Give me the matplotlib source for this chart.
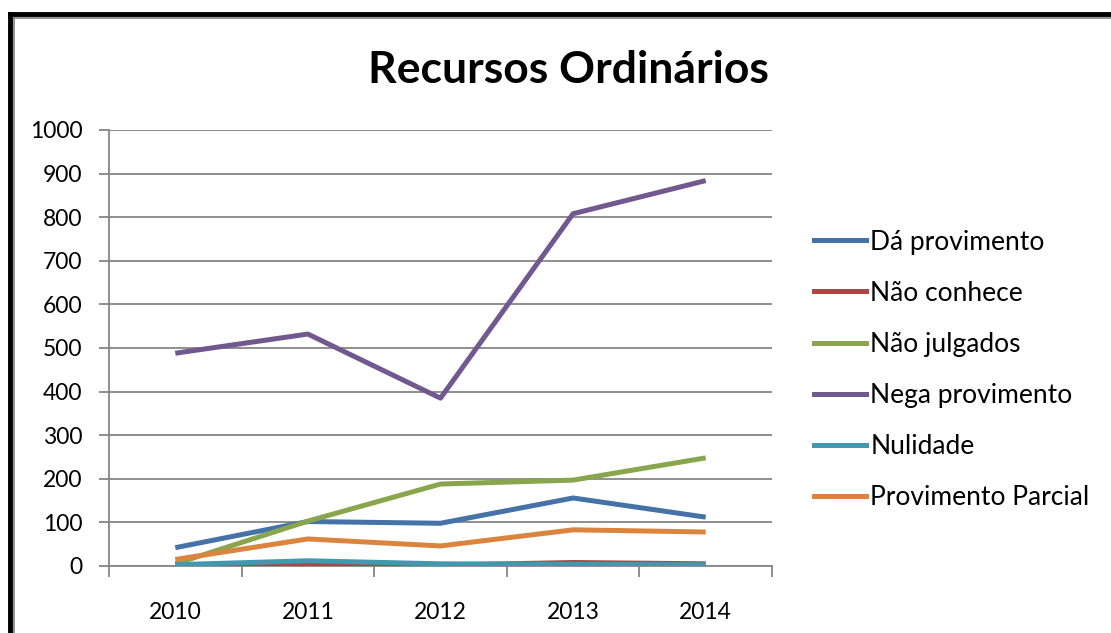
import matplotlib
matplotlib.use("Agg")
import matplotlib.pyplot as plt
from matplotlib.lines import Line2D

years = ["2010", "2011", "2012", "2013", "2014"]
series_names = ["Dá provimento", "Não conhece", "Não julgados",
                "Nega provimento", "Nulidade", "Provimento Parcial"]
da_provimento = [42, 102, 98, 156, 112]
nao_conhece = [2, 5, 2, 8, 5]
nao_julgados = [5, 103, 188, 197, 248]
nega_provimento = [488, 532, 385, 808, 884]
nulidade = [3, 12, 5, 4, 3]
provimento_parcial = [15, 62, 46, 83, 78]
y_ticks = [0, 100, 200, 300, 400, 500, 600, 700, 800, 900, 1000]

values = [da_provimento, nao_conhece, nao_julgados, nega_provimento, nulidade, provimento_parcial]
colors = ["#4572A7", "#AA4643", "#89A54E", "#71588F", "#4198AF", "#DB843D"]

plt.rcParams['font.family'] = ['Lato', 'DejaVu Sans']

fig = plt.figure(figsize=(11.11, 6.33), dpi=100)
ax = fig.add_axes([109/1111, 1-566/633, (772-109)/1111, (566-130)/633])

x = list(range(len(years)))
for name, vals, c in zip(series_names, values, colors):
    ax.plot(x, vals, color=c, lw=3.6, label=name, solid_capstyle='butt', zorder=3)

ax.set_xlim(-0.5, len(years) - 0.5)
ax.set_ylim(0, 1000)
ax.set_yticks(y_ticks)
ax.set_yticklabels([str(v) for v in y_ticks], fontsize=16.5)
ax.set_xticks(x)
ax.set_xticklabels(years, fontsize=16.5)
ax.set_xticks([i - 0.5 for i in range(len(years) + 1)], minor=True)
ax.tick_params(axis='x', which='major', length=0, pad=26)
ax.tick_params(axis='x', which='minor', length=8, width=1.3, color='#868686')
ax.tick_params(axis='y', length=7, width=1.3, color='#868686', pad=12)
ax.grid(axis='y', color='#868686', lw=1.3, zorder=0)
for s in ['top', 'right']:
    ax.spines[s].set_visible(False)
for s in ['left', 'bottom']:
    ax.spines[s].set_color('#868686')
    ax.spines[s].set_linewidth(1.3)

fig.text(568/1111, 1-70/633, "Recursos Ordinários", ha='center', va='center',
         fontsize=32, fontweight='bold')

handles = [Line2D([], [], color=c, lw=3.6) for c in colors]
fig.legend(handles, series_names, loc='upper left', bbox_to_anchor=(803/1111, 1-219/633),
           frameon=False, fontsize=19, handlelength=2.0, handletextpad=0.15,
           labelspacing=0.99, borderaxespad=0)

# figure border (left and top visible)
fig.add_artist(Line2D([10/1111, 10/1111], [0, 1-14/633], color='black', lw=3.5, transform=fig.transFigure))
fig.add_artist(Line2D([10/1111, 1], [1-14/633, 1-14/633], color='black', lw=3.5, transform=fig.transFigure))
fig.add_artist(Line2D([13.5/1111, 13.5/1111], [0, 1-17.5/633], color='#808080', lw=1.2, transform=fig.transFigure))
fig.add_artist(Line2D([13.5/1111, 1], [1-17.5/633, 1-17.5/633], color='#808080', lw=1.2, transform=fig.transFigure))

fig.savefig("out.png", dpi=100)
